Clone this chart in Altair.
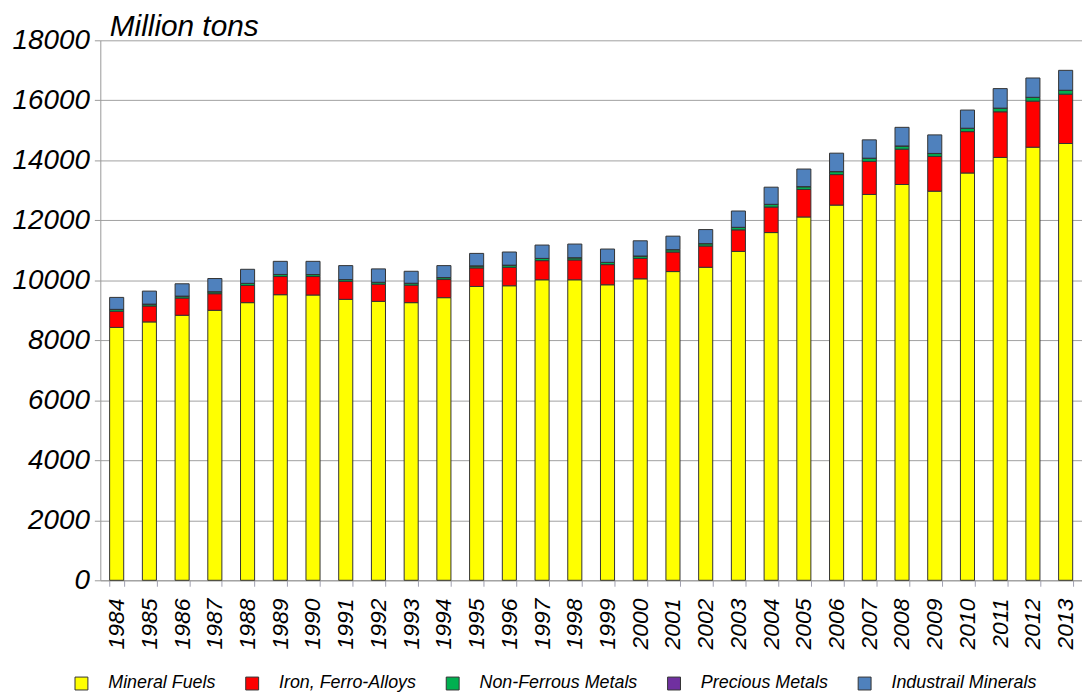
import altair as alt
import pandas as pd

years = [str(y) for y in range(1984, 2014)]
categories = ["Mineral Fuels", "Iron, Ferro-Alloys", "Non-Ferrous Metals",
              "Precious Metals", "Industrail Minerals"]
colors = ["#FFFF00", "#FF0000", "#00B050", "#7030A0", "#4F81BD"]

mineral_fuels = [8430, 8613, 8835, 9000, 9255, 9520, 9510, 9365, 9298, 9255,
                 9421, 9795, 9818, 10017, 10017, 9851, 10050, 10291, 10434, 10963,
                 11591, 12111, 12508, 12862, 13193, 12971, 13577, 14096, 14437, 14560]
iron_ferro = [538, 530, 573, 553, 573, 606, 616, 595, 573, 583,
              605, 618, 616, 638, 661, 672, 681, 652, 708, 718,
              851, 917, 1016, 1102, 1178, 1158, 1380, 1522, 1536, 1644]
non_ferrous = [60, 60, 62, 64, 66, 66, 64, 62, 60, 60,
               62, 66, 68, 72, 72, 72, 76, 76, 78, 82,
               88, 92, 98, 104, 104, 96, 110, 118, 124, 128]
precious = [3, 3, 3, 3, 3, 3, 3, 3, 3, 3,
            3, 3, 3, 3, 3, 3, 3, 3, 3, 3,
            3, 3, 3, 3, 3, 3, 3, 3, 3, 3]
industrial = [399, 434, 411, 439, 470, 437, 439, 465, 446, 400,
              399, 415, 438, 445, 455, 444, 507, 450, 468, 544,
              571, 586, 613, 611, 621, 619, 605, 651, 644, 664]

series = [mineral_fuels, iron_ferro, non_ferrous, precious, industrial]
rows = []
for i, yr in enumerate(years):
    for k, (name, vals) in enumerate(zip(categories, series)):
        rows.append({"Year": yr, "Category": name, "Value": vals[i], "Order": k})
df = pd.DataFrame(rows)

FONT = "Liberation Sans"

chart = alt.Chart(df).mark_bar(stroke="#333333", strokeWidth=1).encode(
    x=alt.X("Year:N", sort=years,
            scale=alt.Scale(paddingInner=0.57, paddingOuter=0.285),
            axis=alt.Axis(title=None, labelAngle=-90, labelFont=FONT,
                          labelFontStyle="italic", labelFontSize=23,
                          labelColor="black", tickBand="extent",
                          tickColor="#a0a0b0", domainColor="#999999",
                          tickSize=6, labelPadding=12, labelAlign="right",
                          labelBaseline="middle")),
    y=alt.Y("Value:Q", stack="zero",
            scale=alt.Scale(domain=[0, 18000], nice=False),
            axis=alt.Axis(values=list(range(0, 18001, 2000)), format="d",
                          title="Million tons",
                          titleAngle=0, titleAlign="left", titleBaseline="alphabetic",
                          titleX=9, titleY=-5, titleFont=FONT, titleFontSize=30,
                          titleFontStyle="italic", titleFontWeight="normal",
                          titleColor="black",
                          labelFont=FONT, labelFontSize=28, labelFontStyle="italic",
                          labelColor="black", gridColor="#a0a0a0",
                          domainColor="#999999", tickColor="#999999",
                          tickSize=6, labelPadding=5)),
    color=alt.Color("Category:N", sort=categories,
                    scale=alt.Scale(domain=categories, range=colors),
                    legend=alt.Legend(title=None, orient="none", direction="horizontal",
                                      columns=5, legendX=-28, legendY=639,
                                      symbolType="square", symbolSize=169,
                                      symbolStrokeColor="#333333", symbolStrokeWidth=1,
                                      labelFont=FONT, labelFontSize=18,
                                      labelFontStyle="italic", labelColor="black",
                                      labelOffset=18, columnPadding=27,
                                      labelLimit=400)),
    order=alt.Order("Order:Q", sort="ascending"),
).properties(
    width=989, height=544,
    padding={"left": 93, "top": 30, "right": 0, "bottom": 111},
    autosize=alt.AutoSizeParams(type="none"),
    background="white",
).configure_view(strokeWidth=0)

chart.save("out.html", embed_options={"renderer": "svg", "actions": False})
